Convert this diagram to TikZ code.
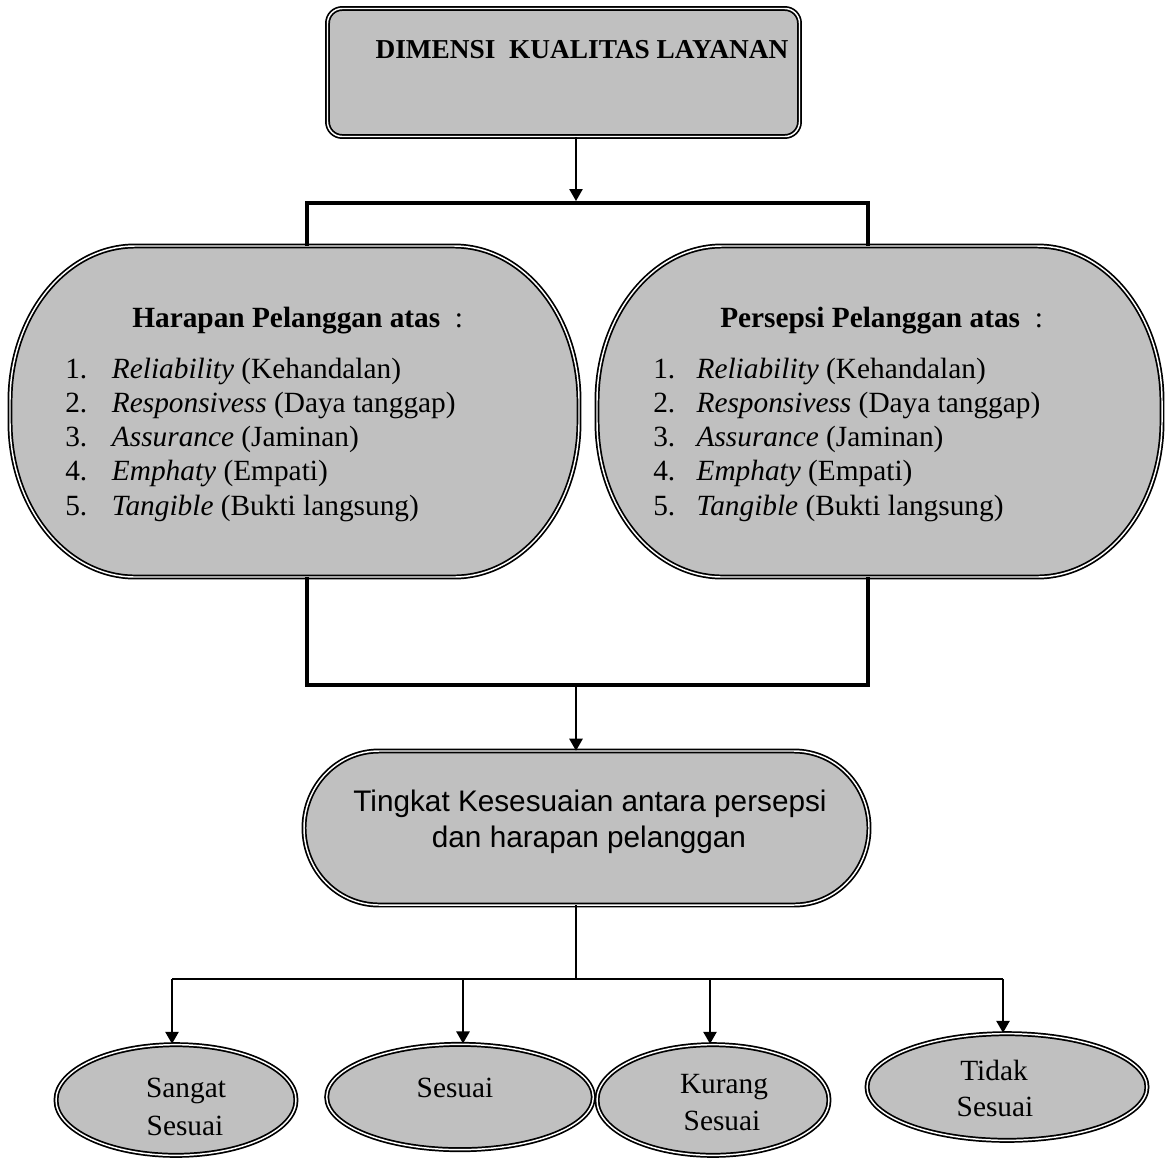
\documentclass[tikz,border=0pt]{standalone}
\usepackage{fontspec}
\setmainfont{Liberation Serif}
\newfontfamily\arialf{Liberation Sans}
\usetikzlibrary{arrows.meta,shapes.geometric}
\definecolor{shapegray}{RGB}{192,192,192}
\tikzset{
  dbl/.style={draw=black, line width=1.3pt, double=white, double distance=1.1pt, fill=shapegray},
  conn/.style={draw=black, line width=1.2pt},
  arr/.style={conn, -{Triangle[width=10pt,length=9pt]}},
  bracketline/.style={draw=black, line width=3.3pt},
  txt/.style={inner sep=0pt, anchor=base},
  ovalfont/.style={font=\fontsize{22}{25.7}\selectfont},
  sansfont/.style={font=\arialf\fontsize{22.3}{26}\selectfont},
}
% stadium shape with elliptic corner radii a,b (pixel units)
\newcommand{\stadshape}[7]{%
  \path[dbl] ({#2+#6},#3) -- ({#4-#6},#3)
    .. controls ({#4-#6+0.5523*#6},#3) and (#4,{#3+#7-0.5523*#7}) .. (#4,{#3+#7})
    -- (#4,{#5-#7})
    .. controls (#4,{#5-#7+0.5523*#7}) and ({#4-#6+0.5523*#6},#5) .. ({#4-#6},#5)
    -- ({#2+#6},#5)
    .. controls ({#2+#6-0.5523*#6},#5) and (#2,{#5-#7+0.5523*#7}) .. (#2,{#5-#7})
    -- (#2,{#3+#7})
    .. controls (#2,{#3+#7-0.5523*#7}) and ({#2+#6-0.5523*#6},#3) .. ({#2+#6},#3) -- cycle;
  \node[inner sep=0pt, minimum width={(#4-#2)*0.75pt}, minimum height={(#5-#3)*0.75pt}]
    (#1) at ({(#2+#4)/2},{(#3+#5)/2}) {};
}
\begin{document}
\begin{tikzpicture}[x=0.75pt,y=-0.75pt]
\fill[white] (0,0) rectangle (1166,1157);
\useasboundingbox (0,0) rectangle (1166,1157);

% top box
\node[dbl, rounded corners=11pt, inner sep=0pt, minimum width=354pt, minimum height=96pt] (dim) at (563.5,72.5) {};
\node[txt, font=\fontsize{20.5}{24}\selectfont\bfseries] (dimtext) at (582,58) {DIMENSI\ \ KUALITAS LAYANAN};

% junction coordinates
\coordinate (tj) at (576,201);
\coordinate (tl) at (307,203);
\coordinate (tr) at (868,203);
\coordinate (bl) at (307,685);
\coordinate (br) at (868,685);
\coordinate (bm) at (576,685);
\coordinate (jt) at (576,979);
\coordinate (j1) at (172,979);
\coordinate (j2) at (463,979);
\coordinate (j3) at (710,979);
\coordinate (j4) at (1003,979);

% ovals
\stadshape{harapan}{10}{246}{579}{577}{125}{155}
\stadshape{persepsi}{597}{246}{1162}{577}{125}{155}

\node[txt, anchor=base west, ovalfont] (hhead) at (132,327) {\textbf{Harapan Pelanggan atas}\ \ :};
\node[txt, anchor=base west, ovalfont] (hlist) at (65,378) {\begin{tabular}[t]{@{}p{35pt}@{}l@{}}
1. & \textit{Reliability} (Kehandalan)\\
2. & \textit{Responsivess} (Daya tanggap)\\
3. & \textit{Assurance} (Jaminan)\\
4. & \textit{Emphaty} (Empati)\\
5. & \textit{Tangible} (Bukti langsung)
\end{tabular}};

\node[txt, anchor=base west, ovalfont] (phead) at (720,327) {\textbf{Persepsi Pelanggan atas}\ \ :};
\node[txt, anchor=base west, ovalfont] (plist) at (653,378) {\begin{tabular}[t]{@{}p{32.5pt}@{}l@{}}
1. & \textit{Reliability} (Kehandalan)\\
2. & \textit{Responsivess} (Daya tanggap)\\
3. & \textit{Assurance} (Jaminan)\\
4. & \textit{Emphaty} (Empati)\\
5. & \textit{Tangible} (Bukti langsung)
\end{tabular}};

% middle stadium
\stadshape{tingkat}{304}{751}{869}{905}{75}{77}
\node[txt, sansfont] (tline1) at (590,811) {Tingkat Kesesuaian antara persepsi};
\node[txt, sansfont] (tline2) at (589,847) {dan harapan pelanggan};

% bottom ellipses
\node[dbl, ellipse, inner sep=0pt, minimum width=180pt, minimum height=83pt] (e1) at (176,1100) {};
\node[dbl, ellipse, inner sep=0pt, minimum width=200pt, minimum height=79pt] (e2) at (460,1097) {};
\node[dbl, ellipse, inner sep=0pt, minimum width=174pt, minimum height=83pt] (e3) at (713,1100) {};
\node[dbl, ellipse, inner sep=0pt, minimum width=210pt, minimum height=80pt] (e4) at (1007,1087) {};

\node[txt, ovalfont] (e1a) at (186,1097) {Sangat};
\node[txt, ovalfont] (e1b) at (185,1135) {Sesuai};
\node[txt, ovalfont] (e2a) at (455,1097) {Sesuai};
\node[txt, ovalfont] (e3a) at (724,1093) {Kurang};
\node[txt, ovalfont] (e3b) at (722,1130) {Sesuai};
\node[txt, ovalfont] (e4a) at (994,1080) {Tidak};
\node[txt, ovalfont] (e4b) at (995,1116) {Sesuai};

% connectors
\draw[arr] (dim.south -| tj) -- (tj);
\draw[bracketline] (harapan.north -| tl) -- (tl) -- (tr) -- (persepsi.north -| tr);
\draw[bracketline] (harapan.south -| bl) -- (bl) -- (br) -- (persepsi.south -| br);
\draw[arr] (bm) -- (bm |- tingkat.north);
\draw[conn] (tingkat.south -| jt) -- (jt);
\draw[conn] (j1) -- (j4);
\draw[arr] (j1) -- (j1 |- e1.north);
\draw[arr] (j2) -- (j2 |- e2.north);
\draw[arr] (j3) -- (j3 |- e3.north);
\draw[arr] (j4) -- (j4 |- e4.north);
\end{tikzpicture}
\end{document}
